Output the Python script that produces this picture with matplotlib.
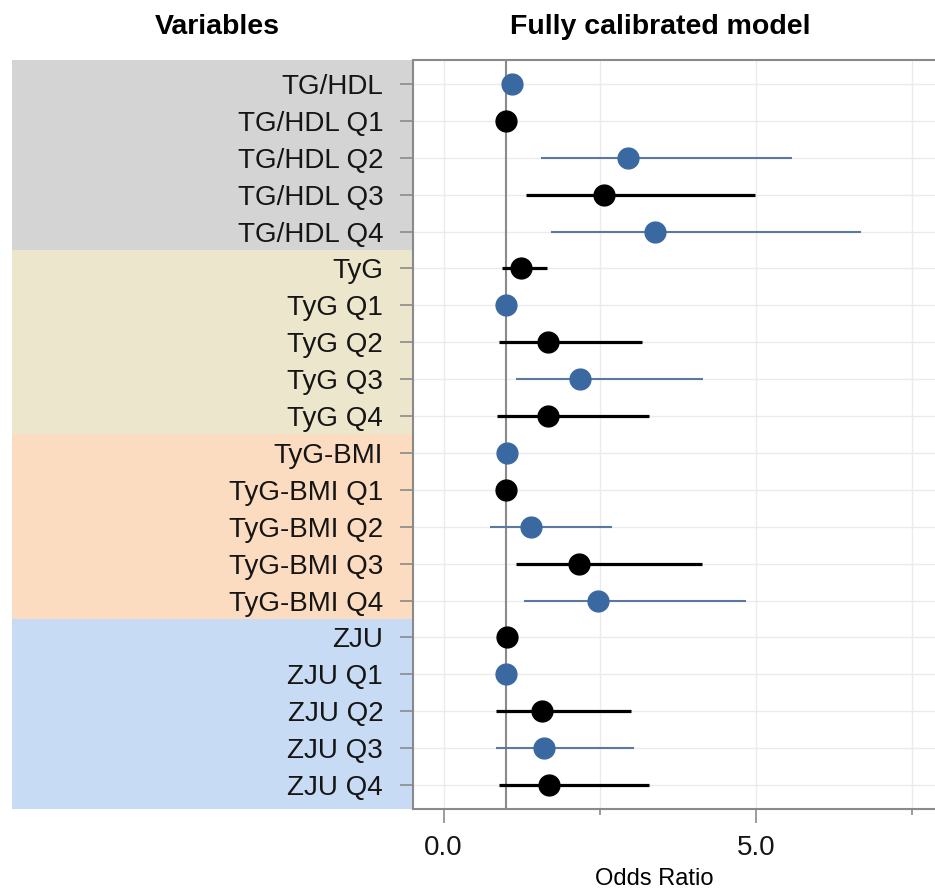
import matplotlib
matplotlib.use('Agg')
import matplotlib.pyplot as plt
import numpy as np

plt.rcParams['font.family'] = ['Liberation Sans', 'DejaVu Sans']

# data
labels = ['TG/HDL', 'TG/HDL Q1', 'TG/HDL Q2', 'TG/HDL Q3', 'TG/HDL Q4',
          'TyG', 'TyG Q1', 'TyG Q2', 'TyG Q3', 'TyG Q4',
          'TyG-BMI', 'TyG-BMI Q1', 'TyG-BMI Q2', 'TyG-BMI Q3', 'TyG-BMI Q4',
          'ZJU', 'ZJU Q1', 'ZJU Q2', 'ZJU Q3', 'ZJU Q4']
odds = [1.09, 1.0, 2.95, 2.56, 3.38,
        1.24, 1.0, 1.67, 2.18, 1.67,
        1.01, 1.0, 1.40, 2.16, 2.47,
        1.01, 1.0, 1.58, 1.61, 1.69]
ci_low = [1.03, 1.0, 1.56, 1.32, 1.72,
          0.94, 1.0, 0.89, 1.15, 0.85,
          0.97, 1.0, 0.74, 1.15, 1.28,
          0.98, 1.0, 0.83, 0.84, 0.89]
ci_high = [1.16, 1.0, 5.58, 4.98, 6.67,
           1.65, 1.0, 3.17, 4.15, 3.28,
           1.05, 1.0, 2.70, 4.13, 4.83,
           1.04, 1.0, 2.99, 3.04, 3.28]
group_sizes = [5, 5, 5, 5]
group_colors = ['#d4d4d4', '#ece6cd', '#fcdcc0', '#c7dcf4']

W, H = 935, 893
fig = plt.figure(figsize=(W / 100, H / 100), dpi=100)

ax_bottom, ax_top = 1 - 809 / H, 1 - 60 / H
ymin, ymax = 19.65, -0.65

# coloured band behind the variable names
bg = fig.add_axes([12 / W, ax_bottom, (413 - 12) / W, ax_top - ax_bottom])
bg.set_ylim(ymin, ymax)
bg.set_xlim(0, 1)
start = ymax
row = 0
for n, c in zip(group_sizes, group_colors):
    end = row + n - 0.5
    if row + n == len(labels):
        end = ymin
    bg.axhspan(start, end, color=c, lw=0)
    start = end
    row += n
bg.axis('off')

ax = fig.add_axes([413 / W, ax_bottom, 1 - 413 / W, ax_top - ax_bottom])
ax.set_zorder(2)
ax.patch.set_facecolor('white')

y = np.arange(len(labels))
blue_pt = '#3a69a2'
blue_ln = '#5a78a0'
for i in range(len(labels)):
    if i % 2 == 0:
        mc, lc, lw = blue_pt, blue_ln, 1.5
    else:
        mc, lc, lw = 'black', 'black', 2.3
    ax.plot([ci_low[i], ci_high[i]], [y[i], y[i]], color=lc, lw=lw, zorder=3,
            solid_capstyle='butt')
    ax.plot(odds[i], y[i], 'o', color=mc, ms=15, zorder=4)

ax.axvline(1.0, color='#8a8a8a', lw=1.5, zorder=2)

ax.set_xlim(-0.49, 7.86)
ax.set_ylim(ymin, ymax)
ax.set_yticks(y)
ax.set_yticklabels(labels, fontsize=20, color='#151515')
ax.set_xticks([0, 5])
ax.set_xticklabels(['0.0', '5.0'], fontsize=20, color='#151515')
ax.set_xticks([2.5, 7.5], minor=True)
ax.tick_params(axis='y', length=9.5, width=1.2, color='#8a8a8a', pad=12)
ax.tick_params(axis='x', which='major', length=10, width=1.2, color='#8a8a8a', pad=9)
ax.tick_params(axis='x', which='minor', length=4.5, width=1.2, color='#8a8a8a')

ax.grid(True, which='both', axis='x', color='#ebebeb', lw=1.0, zorder=0)
ax.grid(True, axis='y', color='#ebebeb', lw=1.0, zorder=0)
ax.set_axisbelow(True)

for side in ['left', 'top', 'bottom']:
    ax.spines[side].set_color('#8a8a8a')
    ax.spines[side].set_linewidth(1.5)
ax.spines['right'].set_visible(False)

fig.text(654 / W, 1 - 879 / H, 'Odds Ratio', ha='center', va='center', fontsize=17)
fig.text(217 / W, 1 - 27 / H, 'Variables', ha='center', va='center',
         fontsize=20.5, fontweight='bold')
fig.text(660 / W, 1 - 27 / H, 'Fully calibrated model', ha='center', va='center',
         fontsize=20.5, fontweight='bold')

fig.savefig('out.png', dpi=100)
